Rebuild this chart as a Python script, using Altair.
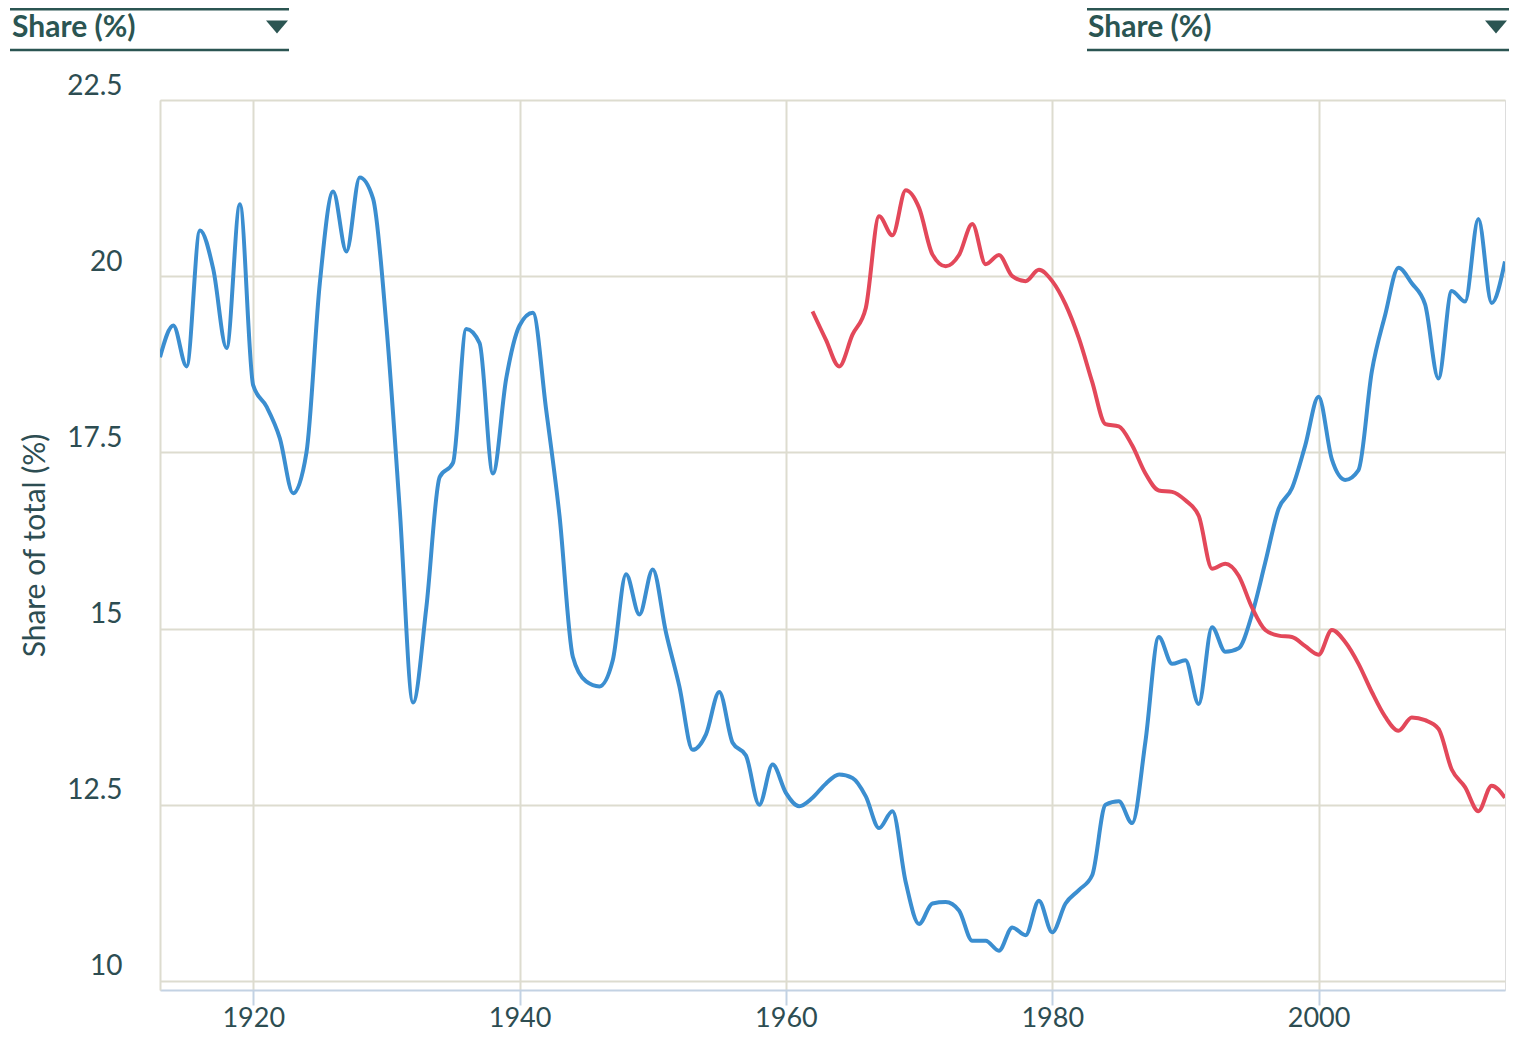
import altair as alt
import pandas as pd

# ---- data ----
blue_years = list(range(1913, 2015))
blue_values = [
    18.85, 19.3, 18.72, 20.65, 20.1, 18.98, 21.02, 18.45, 18.15, 17.7,   # 1913-1922
    16.92, 17.5, 19.9, 21.2, 20.35, 21.4, 21.1, 19.3, 16.7, 13.95,       # 1923-1932
    15.3, 17.15, 17.35, 19.25, 19.05, 17.2, 18.55, 19.3, 19.48, 18.1,    # 1933-1942
    16.6, 14.6, 14.25, 14.18, 14.55, 15.77, 15.2, 15.84, 14.94, 14.18,   # 1943-1952
    13.28, 13.5, 14.1, 13.38, 13.2, 12.5, 13.07, 12.67, 12.48, 12.6,     # 1953-1962
    12.8, 12.93, 12.88, 12.62, 12.17, 12.41, 11.4, 10.81, 11.1, 11.12,   # 1963-1972
    11.0, 10.57, 10.57, 10.43, 10.76, 10.65, 11.14, 10.69, 11.1, 11.29,  # 1973-1982
    11.5, 12.5, 12.55, 12.24, 13.4, 14.88, 14.5, 14.55, 13.93, 15.02,    # 1983-1992
    14.67, 14.72, 15.2, 15.94, 16.7, 16.99, 17.6, 18.29, 17.4, 17.11,    # 1993-2002
    17.25, 18.65, 19.45, 20.12, 19.9, 19.6, 18.55, 19.79, 19.64, 20.81,  # 2003-2012
    19.62, 20.21,                                                        # 2013-2014
]
red_years = list(range(1962, 2015))
red_values = [
    19.5, 19.1, 18.72, 19.17, 19.55, 20.85, 20.58, 21.22, 20.97, 20.31,  # 1962-1971
    20.14, 20.3, 20.74, 20.17, 20.3, 20.0, 19.93, 20.09, 19.93, 19.6,    # 1972-1981
    19.12, 18.5, 17.9, 17.87, 17.6, 17.2, 16.96, 16.94, 16.82, 16.6,     # 1982-1991
    15.85, 15.92, 15.75, 15.3, 14.98, 14.9, 14.88, 14.75, 14.63, 14.98,  # 1992-2001
    14.81, 14.5, 14.1, 13.75, 13.55, 13.74, 13.7, 13.58, 13.0, 12.75,    # 2002-2011
    12.41, 12.77, 12.6,                                                  # 2012-2014
]
assert len(blue_years) == len(blue_values)
assert len(red_years) == len(red_values)

series_names = ["Series A", "Series B"]
series_colors = ["#3b8ed0", "#e3485a"]
x_ticks = [1920, 1940, 1960, 1980, 2000]
y_ticks = [10, 12.5, 15, 17.5, 20, 22.5]
dropdown_label = "Share (%)"
y_title = "Share of total (%)"

df = pd.concat([
    pd.DataFrame({"year": blue_years, "value": blue_values, "series": series_names[0]}),
    pd.DataFrame({"year": red_years, "value": red_values, "series": series_names[1]}),
])

TEXT = "#2d4d52"
DARK = "#2b5552"
GRID = "#dddccf"
AXIS = "#c3d2e3"
FONT = "Lato"

W, H = 1345, 890

lines = alt.Chart(df).mark_line(strokeWidth=4, interpolate="monotone", clip=True).encode(
    x=alt.X("year:Q",
            scale=alt.Scale(domain=[1913, 2014], nice=False, zero=False),
            axis=alt.Axis(values=x_ticks, format="d", title=None, grid=True,
                          gridColor=GRID, gridWidth=2,
                          domainColor=AXIS, domainWidth=2,
                          tickColor=AXIS, tickWidth=2, tickSize=15,
                          labelPadding=0, labelFont=FONT, labelFontSize=27,
                          labelColor=TEXT, labelFlush=False)),
    y=alt.Y("value:Q",
            scale=alt.Scale(domain=[9.872, 22.5], nice=False, zero=False),
            axis=alt.Axis(values=y_ticks, labelExpr="'' + datum.value", title=y_title,
                          grid=True, gridColor=GRID, gridWidth=2,
                          domainColor=GRID, domainWidth=2,
                          ticks=False, labelPadding=38, labelOffset=-14,
                          labelFont=FONT, labelFontSize=28, labelColor=TEXT,
                          labelFlush=False,
                          titleFont=FONT, titleFontSize=30, titleFontWeight="normal",
                          titleColor=TEXT, titleAngle=270, titleX=-125, titleY=H / 2,
                          titleAlign="center", titleBaseline="middle")),
    color=alt.Color("series:N", scale=alt.Scale(domain=series_names, range=series_colors),
                    legend=None),
)

one = pd.DataFrame({"k": [0]})


def hrule(x0, x1, y):
    return alt.Chart(one).mark_rule(color=DARK, strokeWidth=2.5).encode(
        x=alt.value(x0), x2=alt.value(x1), y=alt.value(y))


def label(x, y):
    return alt.Chart(one).mark_text(
        text=dropdown_label, font=FONT, fontSize=30, fontWeight="bold",
        color=DARK, align="left", baseline="middle").encode(
        x=alt.value(x), y=alt.value(y))


def tri(x, y):
    return alt.Chart(one).mark_point(
        shape="M-1,-0.6L1,-0.6L0,0.6Z", filled=True, opacity=1,
        color=DARK, size=484, strokeWidth=0).encode(x=alt.value(x), y=alt.value(y))


deco = [
    hrule(-150, 129, -90.75), hrule(-150, 129, -50), label(-148, -72), tri(117, -73),
    hrule(927, 1349, -90.75), hrule(927, 1349, -50), label(928, -72), tri(1336, -73),
]

chart = alt.layer(lines, *deco).properties(
    width=W, height=H,
    autosize=alt.AutoSizeParams(type="none"),
    padding={"left": 152, "top": 92, "right": 4, "bottom": 43},
).configure_view(strokeWidth=0).configure(background="white")

chart.save("out.html", embed_options={"renderer": "svg", "actions": False})
